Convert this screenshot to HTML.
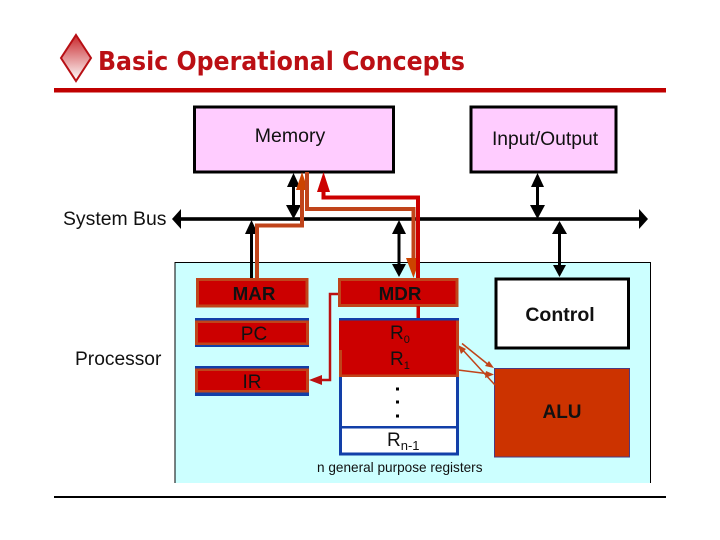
<!DOCTYPE html>
<html><head><meta charset="utf-8"><style>
html,body{margin:0;padding:0;background:#fff;width:720px;height:540px;overflow:hidden}
svg{display:block}
text{font-family:"Liberation Sans",sans-serif;fill:#111}
</style></head><body>
<svg width="720" height="540" viewBox="0 0 720 540" xmlns="http://www.w3.org/2000/svg">
<defs><linearGradient id="g" x1="0" y1="0" x2="0" y2="1"><stop offset="0" stop-color="#c8282c"/><stop offset="1" stop-color="#ffffff"/></linearGradient></defs>
<rect width="720" height="540" fill="#fff"/>
<polygon points="76,35 91,58 76,81 61,58" fill="url(#g)" stroke="#b80f14" stroke-width="2"/>
<text x="98" y="70" font-size="26" font-weight="bold" textLength="367" lengthAdjust="spacingAndGlyphs" style="font-family:'DejaVu Sans',sans-serif;fill:#bb0f14">Basic Operational Concepts</text>
<rect x="54" y="88" width="612" height="4.500" fill="#c00000"/>
<rect x="54" y="496" width="612" height="2" fill="#000"/>

<rect x="175.500" y="263" width="475" height="220" fill="#ccffff"/>
<path d="M175 483V262.500H650.500V483" fill="none" stroke="#000" stroke-width="1"/>

<rect x="194.500" y="107" width="199" height="65" fill="#ffccff" stroke="#000" stroke-width="3"/>
<rect x="471" y="107" width="145" height="65" fill="#ffccff" stroke="#000" stroke-width="3"/>
<text x="290" y="142" font-size="19.500" text-anchor="middle">Memory</text>
<text x="545" y="145" font-size="19.300" text-anchor="middle">Input/Output</text>

<!-- bus -->
<rect x="180" y="217.200" width="460" height="3.600" fill="#000"/>
<polygon points="172,219 181,209 181,229" fill="#000"/>
<polygon points="648,219 639,209 639,229" fill="#000"/>
<text x="63" y="225" font-size="19.400">System Bus</text>
<text x="75" y="365" font-size="19.200">Processor</text>

<!-- black arrows -->
<g fill="#000">
<rect x="292" y="180" width="3" height="30"/><polygon points="293.500,173 287,187 300,187"/><polygon points="293.500,219 286,205 301,205"/>
<rect x="250" y="230" width="3" height="48"/><polygon points="251.500,220 245,234 258,234"/>
<rect x="397.500" y="230" width="3" height="40"/><polygon points="399,220 392,234 406,234"/><polygon points="399,277 392,264 406,264"/>
<rect x="536" y="180" width="3" height="30"/><polygon points="537.500,173 531,187 544,187"/><polygon points="537.500,219 530,205 545,205"/>
<rect x="558" y="230" width="3" height="40"/><polygon points="559.500,221 552,234 567,234"/><polygon points="559.500,277 553,265 566,265"/>
</g>

<!-- coloured arrows -->
<path d="M257 278V225.500H302V185" fill="none" stroke="#c0441a" stroke-width="4"/>
<polygon points="302,172 296,190 308,190" fill="#cc4400"/>
<path d="M307 172V209H413.500V262" fill="none" stroke="#c0441a" stroke-width="4"/>
<polygon points="413.500,278 406,258 420,258" fill="#cc4400"/>
<path d="M418 278V197.500H323.500V188" fill="none" stroke="#cc0000" stroke-width="4"/>
<polygon points="323.500,172 317,192 330,192" fill="#cc0000"/>

<!-- registers -->
<rect x="197.500" y="279.500" width="109.500" height="26.500" fill="#cc0000" stroke="#c0441a" stroke-width="3"/>
<rect x="339.500" y="279.500" width="117.500" height="26" fill="#cc0000" stroke="#c0441a" stroke-width="3"/>
<text x="254" y="300" font-size="18.800" font-weight="bold" text-anchor="middle">MAR</text>
<text x="400" y="300" font-size="18.800" font-weight="bold" text-anchor="middle">MDR</text>

<rect x="195" y="318" width="114" height="29" fill="#123fa8"/>
<rect x="195" y="320.500" width="114" height="24.500" fill="#c0441a"/>
<rect x="198" y="323" width="108" height="19.500" fill="#cc0000"/>
<text x="254" y="340" font-size="19" text-anchor="middle">PC</text>
<rect x="195" y="366" width="114" height="30" fill="#123fa8"/>
<rect x="195" y="368.500" width="114" height="24" fill="#c0441a"/>
<rect x="198" y="371" width="108" height="19" fill="#cc0000"/>
<text x="252" y="388" font-size="19" text-anchor="middle">IR</text>

<rect x="416.500" y="306" width="3.500" height="12" fill="#cc0000"/>
<path d="M338 294H330V380H318" fill="none" stroke="#bb1010" stroke-width="2.500"/>
<polygon points="309,380 322,375 322,385" fill="#bb1010"/>

<!-- register file -->
<rect x="340.500" y="319.500" width="117" height="134.500" fill="#fff" stroke="#123fa8" stroke-width="3"/>
<rect x="340" y="426" width="118" height="2.500" fill="#123fa8"/>
<rect x="339" y="319.500" width="120" height="57.500" fill="#cc0000"/>
<rect x="339" y="350" width="3" height="27" fill="#c0441a"/>
<rect x="456" y="320" width="3" height="57" fill="#c0441a"/>
<rect x="339" y="374.500" width="120" height="2.500" fill="#c0441a"/>
<rect x="339" y="318" width="120" height="2.500" fill="#123fa8"/>
<text x="390" y="339" font-size="19">R<tspan dy="4" font-size="11">0</tspan></text>
<text x="390" y="365" font-size="19">R<tspan dy="4" font-size="11">1</tspan></text>
<rect x="396" y="387.500" width="3" height="3" fill="#000"/>
<rect x="396" y="400.500" width="3" height="3" fill="#000"/>
<rect x="396" y="414.500" width="3" height="3" fill="#000"/>
<text x="387" y="446" font-size="19">R<tspan dy="4" font-size="13">n-1</tspan></text>
<text x="317" y="472" font-size="13.600">n general purpose registers</text>

<!-- control / ALU -->
<rect x="496" y="279" width="132.500" height="69" fill="#fff" stroke="#000" stroke-width="3"/>
<text x="560" y="321" font-size="19.500" font-weight="bold" text-anchor="middle">Control</text>
<rect x="494.500" y="368.500" width="135" height="88.500" fill="#cc3300" stroke="#4a3a80" stroke-width="1"/>
<text x="562" y="418" font-size="19" font-weight="bold" text-anchor="middle">ALU</text>

<g stroke="#c0441a" stroke-width="1.500" fill="none">
<path d="M462 343.500L490 366"/><path d="M461 348L495 385"/><path d="M458 370L490 374"/>
</g>
<g fill="#c0441a">
<polygon points="494,368 485,366 489,361"/>
<polygon points="458,345 466,349 461,354"/>
<polygon points="494,374.500 485,378 486,371"/>
</g>
</svg>
</body></html>
